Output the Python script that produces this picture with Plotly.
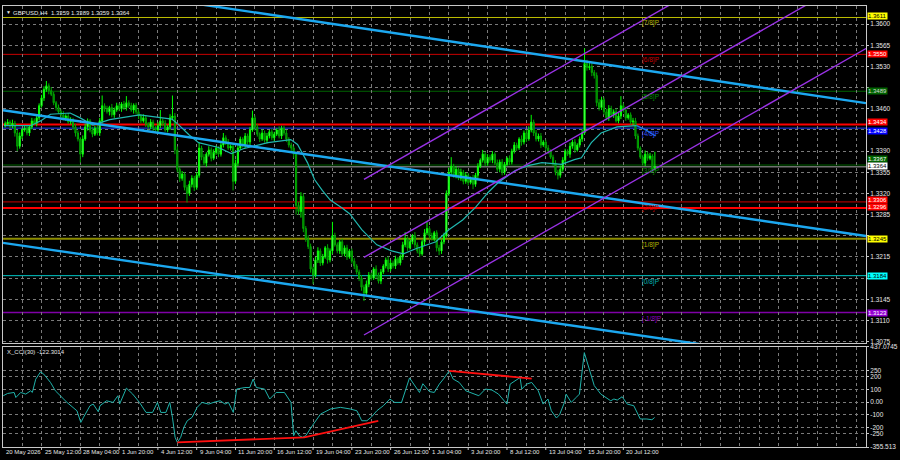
import plotly.graph_objects as go

FONT = "Liberation Sans"
TXT = "#E6E6E6"
GRID = "#7A7A7A"
FRAME = "#C8C8C8"

# ---------------- price data (pips above 1.3000), bar index 0 = 25 May 12:00 ----------------
bar_first = -15
first_open = 433
closes = (
    [435, 438, 432, 436, 420, 398, 415, 425, 428, 420]
    + [430, 440, 436, 445, 465, 478, 492, 498, 490, 484]
    + [470, 462, 455, 450, 445, 448, 438, 442, 430, 420]
    + [410, 385, 410, 430, 440, 425, 418, 428, 420, 440]
    + [465, 460, 455, 462, 450, 458, 465, 460, 468, 462]
    + [470, 465, 458, 466, 455, 448, 440, 445, 435, 430]
    + [438, 428, 425, 432, 440, 436, 425, 430, 445, 448]
    + [392, 360, 345, 352, 330, 320, 335, 345, 330, 350]
    + [395, 380, 370, 385, 392, 378, 388, 395, 385, 400]
    + [412, 405, 395, 398, 340, 370, 395, 410, 400, 415]
    + [405, 425, 445, 430, 418, 410, 420, 408, 415, 422]
    + [412, 418, 425, 415, 428, 420, 410, 400, 395, 385]
    + [300, 290, 315, 262, 245, 232, 195, 185, 210, 225]
    + [205, 215, 230, 210, 225, 250, 235, 225, 240, 220]
    + [230, 215, 225, 208, 200, 190, 180, 165, 155, 170]
    + [185, 180, 195, 185, 175, 190, 200, 210, 195, 205]
    + [200, 212, 205, 215, 235, 245, 230, 240, 250, 235]
    + [225, 220, 240, 255, 262, 250, 245, 255, 230, 225]
    + [240, 250, 320, 355, 365, 350, 360, 345, 355, 340]
    + [350, 338, 345, 335, 350, 365, 375, 385, 370, 380]
    + [375, 385, 370, 360, 372, 355, 368, 378, 372, 390]
    + [400, 395, 410, 405, 420, 410, 425, 438, 420, 410]
    + [415, 400, 405, 395, 390, 380, 370, 355, 350, 360]
    + [375, 390, 385, 398, 405, 392, 400, 410, 420, 535]
    + [528, 530, 520, 515, 470, 462, 475, 455, 445, 460]
    + [450, 455, 440, 448, 465, 458, 445, 450, 438, 440]
    + [415, 395, 380, 370, 385, 378, 382, 359, 364]
)
wick_up = (
    [4, 5, 3, 6, 4, 5, 6, 3, 4, 5]
    + [3, 5, 4, 6, 4, 5, 5, 8, 4, 6]
    + [4, 3, 5, 4, 6, 3, 5, 4, 3, 5]
    + [4, 3, 6, 5, 4, 3, 5, 4, 6, 5]
    + [17, 4, 5, 3, 6, 4, 5, 4, 3, 5]
    + [11, 4, 5, 3, 4, 5, 3, 6, 4, 3]
    + [5, 4, 3, 6, 18, 4, 5, 3, 6, 34]
    + [5, 6, 4, 5, 3, 4, 6, 5, 4, 5]
    + [9, 4, 5, 3, 6, 4, 5, 4, 3, 5]
    + [8, 4, 5, 3, 4, 6, 5, 4, 3, 5]
    + [4, 5, 12, 4, 5, 3, 6, 4, 5, 3]
    + [5, 4, 3, 6, 4, 4, 5, 3, 4, 3]
    + [4, 6, 7, 5, 4, 6, 5, 4, 5, 6]
    + [4, 5, 3, 6, 4, 23, 5, 4, 3, 5]
    + [4, 5, 3, 4, 5, 3, 4, 5, 4, 6]
    + [5, 4, 3, 6, 4, 5, 3, 4, 6, 5]
    + [4, 5, 3, 4, 5, 11, 4, 5, 3, 6]
    + [4, 5, 3, 6, 11, 4, 5, 3, 4, 5]
    + [4, 5, 5, 8, 15, 4, 5, 3, 6, 4]
    + [5, 4, 3, 6, 4, 5, 3, 7, 4, 5]
    + [4, 5, 3, 6, 4, 5, 4, 3, 5, 4]
    + [5, 4, 3, 6, 4, 5, 6, 12, 4, 5]
    + [4, 5, 3, 4, 5, 3, 4, 5, 4, 6]
    + [5, 4, 3, 6, 4, 5, 3, 4, 6, 25]
    + [6, 8, 5, 4, 5, 6, 5, 4, 5, 6]
    + [5, 4, 6, 5, 16, 4, 5, 3, 4, 5]
    + [5, 4, 3, 4, 6, 4, 5, 3, 25]
)
wick_dn = (
    [4, 3, 5, 4, 6, 8, 4, 5, 3, 4]
    + [5, 4, 3, 5, 4, 3, 5, 4, 6, 3]
    + [4, 5, 3, 6, 4, 5, 3, 4, 5, 6]
    + [4, 14, 5, 3, 6, 4, 5, 3, 4, 5]
    + [4, 5, 3, 6, 4, 5, 3, 4, 5, 4]
    + [5, 4, 3, 6, 4, 5, 4, 3, 5, 4]
    + [4, 5, 3, 6, 4, 5, 3, 4, 5, 4]
    + [7, 5, 6, 4, 5, 15, 4, 5, 6, 4]
    + [4, 5, 3, 6, 4, 5, 3, 4, 5, 4]
    + [4, 5, 3, 4, 15, 4, 5, 3, 4, 5]
    + [4, 5, 3, 6, 4, 5, 3, 4, 5, 4]
    + [4, 5, 3, 4, 5, 4, 5, 4, 5, 6]
    + [15, 5, 10, 6, 5, 4, 6, 15, 4, 5]
    + [5, 4, 3, 6, 4, 5, 3, 4, 5, 4]
    + [4, 5, 3, 4, 5, 4, 5, 6, 13, 4]
    + [5, 4, 3, 6, 4, 5, 3, 4, 5, 4]
    + [4, 5, 3, 4, 5, 4, 5, 3, 4, 5]
    + [4, 5, 3, 6, 4, 5, 3, 4, 6, 7]
    + [5, 4, 3, 4, 5, 4, 5, 3, 4, 5]
    + [4, 5, 3, 8, 4, 5, 3, 4, 5, 4]
    + [4, 5, 3, 4, 5, 5, 4, 3, 5, 4]
    + [4, 5, 3, 6, 4, 5, 3, 4, 5, 4]
    + [4, 5, 3, 4, 5, 3, 4, 5, 7, 4]
    + [4, 5, 3, 6, 4, 5, 3, 4, 5, 3]
    + [5, 4, 6, 5, 6, 5, 4, 5, 4, 5]
    + [4, 5, 3, 4, 5, 4, 5, 3, 4, 5]
    + [5, 4, 3, 4, 5, 4, 3, 3, 0]
)

# moving average (bar index, pips)
ma_i = [-15.5, -4.5, -0.4, 3.7, 11.8, 15.9, 21.2, 28.1, 40.4, 48.5, 53.8, 56.7, 60.8, 64.8, 73, 78.3,
        83.2, 93.4, 102.8, 105.6, 109.7, 112.6, 115.8, 119.1, 124, 127.2, 132.1, 138.3, 144.4, 149.3,
        154.6, 162.7, 168, 173.7, 179, 184.3, 188.4, 195.4, 200.7, 206.4, 211.7, 214.5, 219.8, 222.7,
        226.8, 230.8, 237.4, 245.5]
ma_v = [432, 432, 440, 451, 453, 445, 433, 442, 450, 446, 443, 433, 417, 404, 396, 386,
        394, 404, 409, 401, 371, 343, 325, 309, 296, 286, 260, 235, 225, 220,
        229, 240, 260, 276, 297, 322, 338, 358, 366, 371, 369, 368, 376, 379,
        404, 420, 430, 432]
ma_tail_i = [245.5, 249.2, 253.3]
ma_tail_v = [432, 425, 415]

# CCI(30)
cci_i = [-15.8, -14.0, -11.3, -10.6, -8.6, -6.5, -4.5, -3.8, -2.4, -0.4, 0.9, 3.7, 5.7, 7.7, 10.5, 14.6,
         16.2, 17.3, 20.0, 21.3, 23.4, 24.1, 26.8, 29.5, 31.5, 32.2, 35.0, 37.6, 40.4, 43.1, 45.8, 47.8,
         49.2, 51.3, 52.9, 54.0, 55.1, 56.0, 57.4, 58.7, 60.1, 62.1, 64.2, 66.2, 68.9, 71.7, 73.7, 75.7,
         77.1, 79.1, 80.5, 83.9, 85.9, 87.3, 88.6, 92.0, 94.1, 96.8, 100.2, 102.9, 104.0, 104.9, 106.3,
         107.7, 109.0, 111.7, 115.1, 119.2, 123.3, 127.4, 130.1, 132.1, 134.2, 136.2, 138.3, 141.0, 143.7,
         145.7, 148.5, 151.8, 153.9, 155.9, 157.3, 160.0, 162.0, 164.1, 166.1, 168.2, 169.8, 172.3, 175.0,
         177.7, 180.4, 183.1, 185.8, 188.5, 192.0, 193.3, 197.4, 198.1, 200.1, 202.2, 204.9, 206.9, 208.9,
         210.3, 212.4, 213.7, 215.7, 216.4, 218.5, 220.5, 221.9, 223.9, 225.9, 228.0, 230.7, 232.9, 234.8,
         236.1, 237.5, 239.5, 241.6, 244.3, 247.0, 249.7, 251.8, 252.9]
cci_v = [50, 68, 76, 36, 76, 63, 89, 76, 181, 239, 221, 155, 89, 50, -3, -69,
         -161, -121, -29, -16, -77, -29, 10, -3, 50, -16, 110, 63, -3, -82, -82, -3,
         -82, -82, -3, -121, -279, -319, -279, -200, -148, -121, -42, -3, -16, 2, 10, -16,
         -3, -82, 103, 115, 115, 182, 115, 103, 24, 76, 76, -3, -266, -227, -266,
         -279, -266, -187, -95, -55, -42, -55, -69, -148, -148, -116, -69, -29, 24,
         -3, -3, 191, 135, 76, 145, 83, 76, 142, 190, 247, 182, 155, 89,
         68, 50, 103, 95, 63, -16, 142, 194, 103, 142, 155, 89, -16, 24,
         -69, -126, -100, -3, 63, -3, 36, 63, 391, 273, 130, 63, 35, 10,
         24, 16, 42, -16, -29, -134, -134, -140, -122]
cci_div1_i = [56.0, 108.4, 138.9]
cci_div1_v = [-319, -279, -148]
cci_div2_i = [168.2, 202.2]
cci_div2_v = [247, 186]

# trend lines: (i0, p0, i1, p1)
cyan_lines = [(62.8, 1.36343, 340.1, 1.34694),
              (-15.9, 1.34577, 340.1, 1.32497),
              (-15.9, 1.32383, 340.1, 1.30308)]
purple_lines = [(133.0, 1.33432, 340.1, 1.38170),
                (133.0, 1.32142, 340.1, 1.36880),
                (133.0, 1.30859, 340.1, 1.35597)]

# horizontal levels: price, colour, width
levels = [(1.3611, "#BEBE00", 1), (1.3550, "#C80000", 1), (1.3489, "#006400", 1),
          (1.3434, "#FF0000", 2), (1.3428, "#1E3CFF", 1), (1.3367, "#006400", 1),
          (1.3364, "#A8A8A8", 1), (1.3306, "#C80000", 1), (1.3296, "#FF0000", 2),
          (1.3245, "#8C8C00", 2), (1.3184, "#00C8C8", 1), (1.3123, "#8000A8", 1.5)]
murray = [("[7/8]P", 1.3611, "#B4B400"), ("[6/8]P", 1.3550, "#C80000"), ("[5/8]P", 1.3489, "#008C00"),
          ("[4/8]P", 1.3428, "#3050FF"), ("[3/8]P", 1.3367, "#008C00"), ("[2/8]P", 1.3306, "#D00000"),
          ("[1/8]P", 1.3245, "#B4B400"), ("[0/8]P", 1.3184, "#00B4B4"), ("[-1/8]P", 1.3123, "#8C00C0")]
# price tags: price, background, text colour, vertical shift (px)
tags = [(1.3611, "#FFFF00", "#000000", 1), (1.3550, "#FF0000", "#FFFFFF", 0),
        (1.3489, "#006400", "#D8D8D8", 0), (1.3434, "#FF0000", "#FFFFFF", 3),
        (1.3428, "#0000FF", "#FFFFFF", -3), (1.3367, "#006400", "#FFFFFF", 6),
        (1.3364, "#FFFFFF", "#000000", 1), (1.3306, "#FF0000", "#FFFFFF", 2),
        (1.3296, "#FF0000", "#FFFFFF", 0.5), (1.3245, "#FFFF00", "#000000", 0),
        (1.3184, "#00FFFF", "#000000", 0), (1.3123, "#9400D3", "#FFFFFF", 0)]

price_ticks = [1.3075, 1.3110, 1.3145, 1.3180, 1.3215, 1.3250, 1.3285, 1.3320, 1.3355, 1.3390,
               1.3425, 1.3460, 1.3495, 1.3530, 1.3565, 1.3600]
price_ticktext = ["1.3075", "1.3110", "1.3145", "", "1.3215", "", "1.3285", "1.3320", "1.3355",
                  "1.3390", "", "1.3460", "", "1.3530", "1.3565", "1.3600"]
cci_ticks = [437.0745, 250, 200, 100, 0, -100, -200, -250, -355.513]
cci_ticktext = ["437.0745", "250", "200", "100", "0.00", "-100", "-200", "-250", "-355.513"]
time_idx = [0, 16, 32, 48, 64, 80, 96, 112, 128, 144, 160, 176, 192, 208, 224, 240]
time_text = ["25 May 12:00", "28 May 04:00", "1 Jun 20:00", "4 Jun 12:00", "9 Jun 04:00",
             "11 Jun 20:00", "16 Jun 12:00", "19 Jun 04:00", "23 Jun 20:00", "26 Jun 12:00",
             "1 Jul 04:00", "3 Jul 20:00", "8 Jul 12:00", "13 Jul 04:00", "15 Jul 20:00",
             "20 Jul 12:00"]

X_RANGE = [-15.9, 340.1]
Y_RANGE = [1.30719, 1.36300]
CCI_RANGE = [-355.513, 437.0745]

# ---------------- build ----------------
n = len(closes)
assert n == len(wick_up) == len(wick_dn)
idx = list(range(bar_first, bar_first + n))
opens = [first_open] + closes[:-1]
highs = [max(o, c) + w for o, c, w in zip(opens, closes, wick_up)]
lows = [min(o, c) - w for o, c, w in zip(opens, closes, wick_dn)]
pp = lambda v: 1.3 + v / 10000.0


def paper_x(px):
    return (px - 2) / 873.0


def paper_y(py):
    return (447 - py) / 445.0


fig = go.Figure()
fig.add_trace(go.Candlestick(
    x=idx, open=[pp(v) for v in opens], high=[pp(v) for v in highs],
    low=[pp(v) for v in lows], close=[pp(v) for v in closes],
    increasing=dict(line=dict(color="#00FF00", width=1), fillcolor="#B0FFB0"),
    decreasing=dict(line=dict(color="#00A800", width=1), fillcolor="#006400"),
    whiskerwidth=0, xaxis="x", yaxis="y", showlegend=False, hoverinfo="skip"))

fig.add_trace(go.Scatter(x=ma_i, y=[pp(v) for v in ma_v], mode="lines",
                         line=dict(color="#20B8B0", width=1.2), xaxis="x", yaxis="y",
                         showlegend=False, hoverinfo="skip"))
fig.add_trace(go.Scatter(x=ma_tail_i, y=[pp(v) for v in ma_tail_v], mode="lines",
                         line=dict(color="#1E78E6", width=1.4), xaxis="x", yaxis="y",
                         showlegend=False, hoverinfo="skip"))

for (i0, p0, i1, p1) in cyan_lines:
    fig.add_trace(go.Scatter(x=[i0, i1], y=[p0, p1], mode="lines",
                             line=dict(color="#1CA8F0", width=2.4), xaxis="x", yaxis="y",
                             showlegend=False, hoverinfo="skip"))
for (i0, p0, i1, p1) in purple_lines:
    fig.add_trace(go.Scatter(x=[i0, i1], y=[p0, p1], mode="lines",
                             line=dict(color="#9A32E6", width=1.4), xaxis="x", yaxis="y",
                             showlegend=False, hoverinfo="skip"))

fig.add_trace(go.Scatter(x=cci_i, y=cci_v, mode="lines", line=dict(color="#20B2AA", width=1),
                         xaxis="x2", yaxis="y2", showlegend=False, hoverinfo="skip"))
for (xi, yv) in [(cci_div1_i, cci_div1_v), (cci_div2_i, cci_div2_v)]:
    fig.add_trace(go.Scatter(x=xi, y=yv, mode="lines", line=dict(color="#FF1010", width=1.8),
                             xaxis="x2", yaxis="y2", showlegend=False, hoverinfo="skip"))

shapes = []
for (p, col, w) in levels:
    shapes.append(dict(type="line", xref="x domain", yref="y", x0=0, x1=1, y0=p, y1=p,
                       line=dict(color=col, width=w), layer="below"))
for t in time_idx:
    shapes.append(dict(type="line", xref="x2", yref="paper", x0=t, x1=t, y0=0, y1=-3 / 445.0,
                       line=dict(color=FRAME, width=1)))

ann = []
ann.append(dict(xref="paper", yref="paper", x=paper_x(3), y=paper_y(8.5), text="▼",
                showarrow=False, xanchor="left", yanchor="middle",
                font=dict(family=FONT, size=5, color=TXT)))
ann.append(dict(xref="paper", yref="paper", x=paper_x(10), y=paper_y(9), showarrow=False,
                text="GBPUSD,H4  1.3359 1.3389 1.3359 1.3364", xanchor="left", yanchor="middle",
                font=dict(family=FONT, size=6, color=TXT)))
ann.append(dict(xref="paper", yref="paper", x=paper_x(4), y=paper_y(351), showarrow=False,
                text="X_CCI(30) -122.3014", xanchor="left", yanchor="middle",
                font=dict(family=FONT, size=6, color=TXT)))
ann.append(dict(xref="paper", yref="paper", x=paper_x(3), y=paper_y(452.5), showarrow=False,
                text="20 May 2026", xanchor="left", yanchor="middle",
                font=dict(family=FONT, size=6, color=TXT)))
for t, s in zip(time_idx, time_text):
    ann.append(dict(xref="x2", yref="paper", x=t, y=paper_y(452.5), showarrow=False, text=s,
                    xanchor="left", yanchor="middle", xshift=1,
                    font=dict(family=FONT, size=6, color=TXT)))
for (s, p, col) in murray:
    ann.append(dict(xref="x", yref="y", x=247, y=p, showarrow=False, text=s, xanchor="left",
                    yanchor="top", yshift=0, font=dict(family=FONT, size=6.5, color=col)))
for (p, bg, fg, ys) in tags:
    ann.append(dict(xref="paper", yref="y", x=1, y=p, showarrow=False, text=f"{p:.4f}",
                    xanchor="left", yanchor="middle", xshift=1, yshift=ys, bgcolor=bg,
                    borderpad=0, font=dict(family=FONT, size=6, color=fg)))

axis_common = dict(showline=True, mirror=True, linecolor=FRAME, linewidth=1, zeroline=False,
                   gridcolor=GRID, griddash="3px,3px", gridwidth=1)

fig.update_layout(
    width=900, height=460, margin=dict(l=2, r=25, t=2, b=13),
    paper_bgcolor="#000000", plot_bgcolor="#000000", hovermode=False, showlegend=False,
    xaxis=dict(domain=[0, 1], range=X_RANGE, anchor="y", showticklabels=False, ticks="",
               tickmode="linear", tick0=0, dtick=8, showgrid=True,
               rangeslider=dict(visible=False), **axis_common),
    xaxis2=dict(domain=[0, 1], range=X_RANGE, anchor="y2", matches="x", showticklabels=False,
                ticks="", tickmode="linear", tick0=0, dtick=8, showgrid=True, **axis_common),
    yaxis=dict(domain=[0.2348, 1], range=Y_RANGE, side="right", tickmode="array",
               tickvals=price_ticks, ticktext=price_ticktext,
               ticks="outside", ticklen=2, tickcolor=FRAME, showgrid=True,
               tickfont=dict(family=FONT, size=6.5, color=TXT), **axis_common),
    yaxis2=dict(domain=[0, 0.2272], range=CCI_RANGE, side="right", tickmode="array",
                tickvals=cci_ticks, ticktext=cci_ticktext, ticks="outside", ticklen=2,
                tickcolor=FRAME, showgrid=True,
                tickfont=dict(family=FONT, size=6.5, color=TXT), **axis_common),
    shapes=shapes, annotations=ann,
)

fig.write_html("out.html", config={"displayModeBar": False},
               post_script="document.body.style.margin='0';document.body.style.background='#000';")
